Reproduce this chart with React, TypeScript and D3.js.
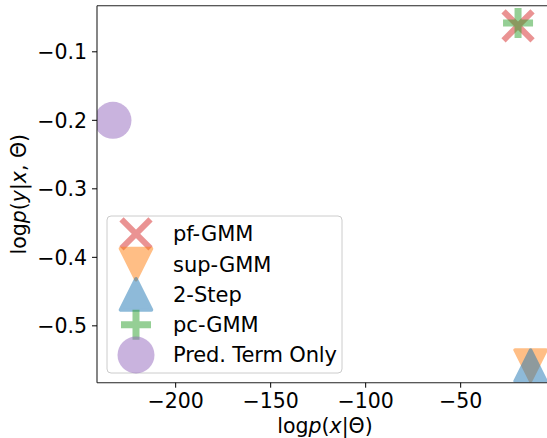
import React from 'react';
import * as d3 from 'd3';

// values
const methods = ['pf-GMM', 'sup-GMM', '2-Step', 'pc-GMM', 'Pred. Term Only'];
const markers = ['x', 'triangle-down', 'triangle-up', 'plus', 'circle'];
const colors = ['#d62728', '#ff7f0e', '#1f77b4', '#2ca02c', '#9467bd'];
const logPx = [-19.8, -13.2, -13.2, -19.8, -233];
const logPyx = [-0.062, -0.558, -0.558, -0.058, -0.2];
const xTicks = [-200, -150, -100, -50];
const yTicks = [-0.1, -0.2, -0.3, -0.4, -0.5];

const width = 547;
const height = 438;
const margin = { top: 5.7, right: -6, bottom: 55.3, left: 97 };
const font = 'DejaVu Sans, sans-serif';

const Marker = ({ kind, color, cx, cy }: { kind: string; color: string; cx: number; cy: number }) => {
  const s = 15.5;
  if (kind === 'x') {
    const d = 14.5;
    return (
      <path
        d={`M${cx - d},${cy - d}L${cx + d},${cy + d}M${cx - d},${cy + d}L${cx + d},${cy - d}`}
        stroke={color} strokeWidth={6} opacity={0.5} fill="none"
      />
    );
  }
  if (kind === 'plus') {
    const d = 15;
    return (
      <path
        d={`M${cx - d},${cy}L${cx + d},${cy}M${cx},${cy - d}L${cx},${cy + d}`}
        stroke={color} strokeWidth={7} opacity={0.5} fill="none"
      />
    );
  }
  if (kind === 'circle') {
    return <circle cx={cx} cy={cy} r={18.5} fill={color} opacity={0.5} />;
  }
  const dir = kind === 'triangle-up' ? 1 : -1;
  const p = `M${cx},${cy - dir * s}L${cx - s},${cy + dir * s}L${cx + s},${cy + dir * s}Z`;
  return <path d={p} fill={color} stroke={color} strokeWidth={3.5} strokeLinejoin="round" opacity={0.5} />;
};

const App = () => {
  const x = d3.scaleLinear().domain([-241.4, -1.4]).range([margin.left, width - margin.right]);
  const y = d3.scaleLinear().domain([-0.583, -0.0327]).range([height - margin.bottom, margin.top]);
  const x0 = margin.left;
  const x1 = width - margin.right;
  const y0 = height - margin.bottom;
  const y1 = margin.top;
  const fmtY = d3.format('.1f');
  const fmtX = d3.format('d');

  const legX = 107;
  const legY = 216;
  const rowY = (i: number) => 233.8 + i * 30.3;

  return (
    <svg width={width} height={height} style={{ position: 'absolute', left: 0, top: 0, background: '#fff' }}
      fontFamily={font}>
      <defs>
        <clipPath id="plot">
          <rect x={x0} y={y1} width={x1 - x0} height={y0 - y1} />
        </clipPath>
      </defs>
      <rect width={width} height={height} fill="#fff" />

      {/* points */}
      <g clipPath="url(#plot)">
        {methods.map((m, i) => (
          <Marker key={m} kind={markers[i]} color={colors[i]} cx={x(logPx[i])} cy={y(logPyx[i])} />
        ))}
      </g>

      {/* spines */}
      <g stroke="#222" strokeWidth={1.1} fill="none">
        <line x1={x0} x2={x1} y1={y1} y2={y1} />
        <line x1={x0} x2={x1} y1={y0} y2={y0} />
        <line x1={x0} x2={x0} y1={y1} y2={y0} />
        <line x1={x1} x2={x1} y1={y1} y2={y0} />
      </g>

      {/* x axis */}
      {xTicks.map(t => (
        <g key={t}>
          <line x1={x(t)} x2={x(t)} y1={y0} y2={y0 + 5} stroke="#000" strokeWidth={1} />
          <text x={x(t)} y={408} fontSize={20.5} textAnchor="middle">{fmtX(t).replace('-', '\u2212')}</text>
        </g>
      ))}
      {/* y axis */}
      {yTicks.map(t => (
        <g key={t}>
          <line x1={x0 - 5} x2={x0} y1={y(t)} y2={y(t)} stroke="#000" strokeWidth={1} />
          <text x={87} y={y(t) + 7.4} fontSize={20.5} textAnchor="end">{fmtY(t)}</text>
        </g>
      ))}

      {/* axis labels */}
      <text x={(x0 + x1) / 2} y={432.5} fontSize={20.5} textAnchor="middle">
        log<tspan fontStyle="italic">p</tspan>(<tspan fontStyle="italic">x</tspan>|Θ)
      </text>
      <text transform={`translate(26,${(y0 + y1) / 2}) rotate(-90)`} fontSize={20.5} textAnchor="middle">
        log<tspan fontStyle="italic">p</tspan>(<tspan fontStyle="italic">y</tspan>|<tspan fontStyle="italic">x</tspan>, Θ)
      </text>

      {/* legend */}
      <rect x={legX} y={legY} width={235} height={157} rx={4} fill="#fff" fillOpacity={0.8}
        stroke="#cccccc" strokeWidth={1} />
      {methods.map((m, i) => (
        <g key={m}>
          <Marker kind={markers[i]} color={colors[i]} cx={136} cy={rowY(i)} />
          <text x={173} y={rowY(i) + 7.4} fontSize={21} textLength={m === 'Pred. Term Only' ? 164 : undefined}>{m}</text>
        </g>
      ))}
    </svg>
  );
};

export default App;
